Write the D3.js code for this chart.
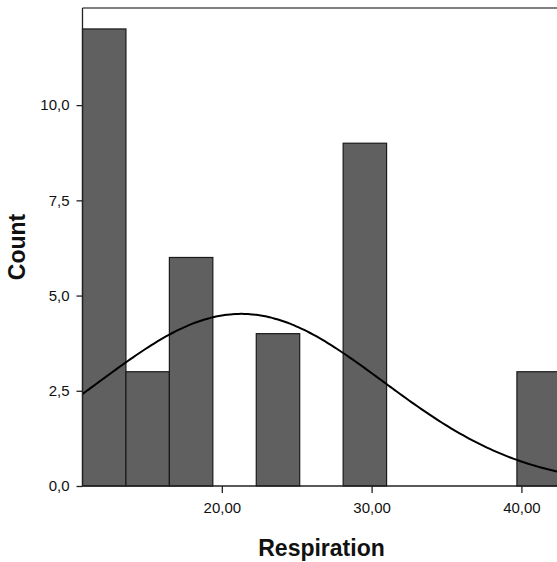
<!DOCTYPE html>
<meta charset="utf-8">
<style>
body { margin: 0; background: #fff; }
svg { display: block; font-family: "Liberation Sans", Arial, sans-serif; }
.bar { fill: #606060; stroke: #1a1a1a; stroke-width: 1.2px; }
.curve { fill: none; stroke: #000; stroke-width: 2px; }
.axis text { font-size: 15px; fill: #111; }
.axis path, .axis line { stroke: #222; stroke-width: 1.3px; }
.title { font-size: 23px; font-weight: bold; fill: #111; }
</style>
<svg width="557" height="562" id="chart"></svg>
<script src="https://d3js.org/d3.v7.min.js"></script>
<script>
// histogram bins (Respiration), bin start and width
var binStart = 10.7;
var binWidth = 2.9;
var counts = [12, 3, 6, 0, 4, 0, 9, 0, 0, 0, 3];

// normal curve parameters as drawn by SPSS
var curveMean = 21.3;
var curveSd = 9.47;
var total = d3.sum(counts);

var xTicks = [20, 30, 40];
var yTicks = [0, 2.5, 5, 7.5, 10];

var svg = d3.select("svg#chart");

var plotLeft = 82.5, plotTop = 8, plotBottom = 486;
var xMax = binStart + binWidth * counts.length;

var x = d3.scaleLinear()
    .domain([binStart, xMax])
    .range([plotLeft, plotLeft + (xMax - binStart) * 14.98]);

var y = d3.scaleLinear()
    .domain([0, 12.55])
    .range([plotBottom, plotTop]);

var comma = function(fmt) {
  return function(d) { return d3.format(fmt)(d).replace(".", ","); };
};

// frame line on top
svg.append("line")
    .attr("x1", plotLeft).attr("x2", 557)
    .attr("y1", plotTop).attr("y2", plotTop)
    .attr("stroke", "#808080")
    .attr("stroke-width", 2);

var bins = counts.map(function(c, i) {
  return {x0: binStart + i * binWidth, x1: binStart + (i + 1) * binWidth, n: c};
}).filter(function(d) { return d.n > 0; });

svg.append("g")
  .selectAll("rect")
  .data(bins)
  .enter().append("rect")
    .attr("class", "bar")
    .attr("x", function(d) { return x(d.x0); })
    .attr("width", function(d) { return x(d.x1) - x(d.x0); })
    .attr("y", function(d) { return y(d.n); })
    .attr("height", function(d) { return y(0) - y(d.n); });

// normal curve scaled to counts
var pts = d3.range(binStart, xMax + 0.01, 0.2).map(function(v) {
  var z = (v - curveMean) / curveSd;
  return [v, total * binWidth * Math.exp(-0.5 * z * z) / (curveSd * Math.sqrt(2 * Math.PI))];
});

svg.append("path")
    .datum(pts)
    .attr("class", "curve")
    .attr("d", d3.line()
      .x(function(d) { return x(d[0]); })
      .y(function(d) { return y(d[1]); })
      .curve(d3.curveBasis));

svg.append("g")
    .attr("class", "axis")
    .attr("transform", "translate(" + plotLeft + ",0)")
    .call(d3.axisLeft(y).tickValues(yTicks).tickFormat(comma(".1f")).tickSize(6).tickPadding(7))
    .call(function(g) { g.select(".domain").attr("d", "M0," + plotTop + "V" + plotBottom); });

svg.append("g")
    .attr("class", "axis")
    .attr("transform", "translate(0," + plotBottom + ")")
    .call(d3.axisBottom(x).tickValues(xTicks).tickFormat(comma(".2f")).tickSize(7).tickPadding(9))
    .call(function(g) { g.select(".domain").attr("d", "M" + plotLeft + ",0H557"); });

svg.append("text")
    .attr("class", "title")
    .attr("x", 321.5)
    .attr("y", 556)
    .attr("text-anchor", "middle")
    .text("Respiration");

svg.append("text")
    .attr("class", "title")
    .attr("transform", "translate(25,247) rotate(-90)")
    .attr("text-anchor", "middle")
    .text("Count");
</script>
